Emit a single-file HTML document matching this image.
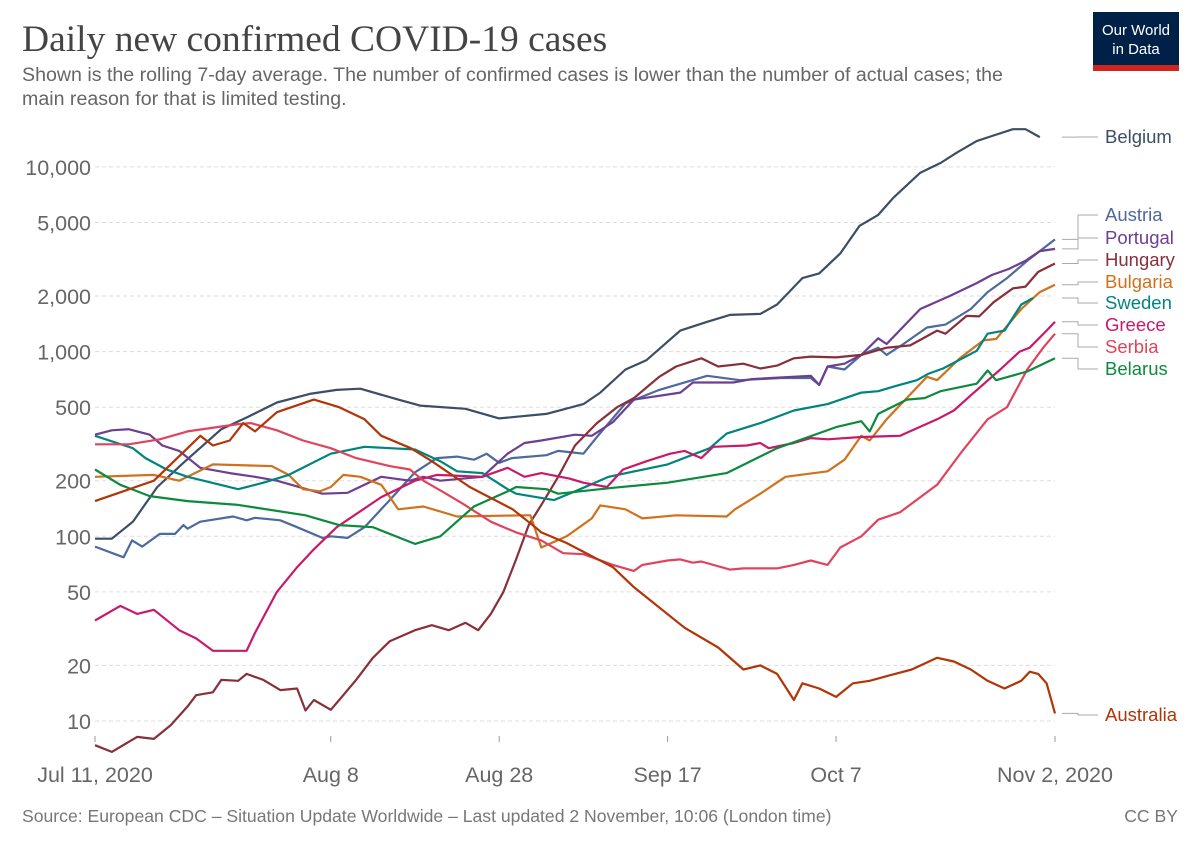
<!DOCTYPE html>
<html><head><meta charset="utf-8"><style>
body{margin:0;background:#fff;width:1200px;height:847px;overflow:hidden;font-family:"Liberation Sans",sans-serif}
</style></head><body>
<svg width="1200" height="847" id="c" xmlns="http://www.w3.org/2000/svg">
<text x="22" y="51" font-family="Liberation Serif" font-size="37.5" fill="#444">Daily new confirmed COVID-19 cases</text>
<text x="22" y="81" font-size="19.6" fill="#666">Shown is the rolling 7-day average. The number of confirmed cases is lower than the number of actual cases; the</text>
<text x="22" y="105" font-size="19.6" fill="#666">main reason for that is limited testing.</text>
<g><rect x="1093" y="12" width="86" height="59" fill="#002147"/><rect x="1093" y="65" width="86" height="6" fill="#ce261e"/>
<text x="1136" y="35" font-size="15" fill="#fff" text-anchor="middle">Our World</text><text x="1136" y="54" font-size="15" fill="#fff" text-anchor="middle">in Data</text></g>
<text x="22" y="822" font-size="17.6" fill="#777">Source: European CDC – Situation Update Worldwide – Last updated 2 November, 10:06 (London time)</text>
<text x="1178" y="822" font-size="17.6" fill="#777" text-anchor="end">CC BY</text>
<g id="grid"></g><g id="series"></g><g id="labels"></g>
</svg>
<script>
const yTicks=[10,20,50,100,200,500,1000,2000,5000,10000];
const yTickLabels=["10","20","50","100","200","500","1,000","2,000","5,000","10,000"];
const xTickDays=[0,28,48,68,88,114];
const xTickLabels=["Jul 11, 2020","Aug 8","Aug 28","Sep 17","Oct 7","Nov 2, 2020"];
const seriesNames=["Belgium","Austria","Portugal","Hungary","Bulgaria","Sweden","Greece","Serbia","Belarus","Australia"];
const seriesColors=["#3c4e66","#4c6a9c","#6d3e91","#883039","#d0721c","#00847e","#c81a6a","#e0445c","#0d8a3e","#b13507"];
const labelY=[137,215,238,260,282,303,325,347,369,715];
const daysBelgium=[0,2,4.5,7.4,10.5,15,18,21.6,25.5,28.7,31.5,36,38.6,44,48,53.6,58,60,63,65.5,69.5,72.7,75.4,79,81,84,86,88.5,90.8,93,94.8,98,100.4,102.4,104.7,106.7,109,110.5,112.2];
const valsBelgium=[97,97,120,185,250,380,440,530,590,620,630,550,510,490,435,460,520,600,800,900,1300,1450,1580,1600,1800,2500,2650,3400,4800,5500,6800,9300,10500,12000,13800,14800,16000,16000,14500];
const daysAustria=[0,3.4,4.4,5.6,7.7,9.5,10.5,11,12.5,16.4,18,19,22,24,27,28,30,32,35,38,40.6,43,45,46.5,48,49.5,53.6,55,58,59.6,63,67,72.7,76.6,81.4,85,86,87,89,91,93,94,96,98.8,101,104,106,108.3,110.7,114];
const valsAustria=[88,77,95,88,103,103,115,110,120,128,122,126,122,112,98,100,98,112,157,222,265,270,260,280,250,265,275,290,280,345,525,620,740,700,720,720,660,830,800,960,1050,960,1100,1350,1400,1700,2100,2500,3100,4050];
const daysPortugal=[0,2,4,6.5,8,10,12.5,16,19,21.6,27,30,34,37.4,39,41,46,49,51,53,57,59,61.5,64,69.5,71,75.8,78,85,86,87,89,91,93,94,98,101.5,104.7,106.5,108.5,110.5,112.2,114];
const valsPortugal=[355,375,380,355,310,290,235,220,210,200,170,172,210,200,210,200,210,280,320,330,355,350,415,550,600,680,680,710,740,660,830,860,960,1180,1100,1700,2000,2350,2600,2800,3100,3500,3600];
const daysHungary=[0,2,5,7,9,11,12,14,15,17,18,20,22,24,25,26,28,29,31,33,35,38,40,42,44,45.5,47,48.5,50,51.5,53,55,57,59.6,62,64,67,69,72,74,77,79,81,83,85,88,91,94,96.8,100,101,103.5,105,106.7,109,110.5,112,114];
const valsHungary=[7.4,6.8,8.2,8,9.5,12,13.8,14.3,16.7,16.5,18,16.7,14.7,15,11.4,13,11.5,13,16.7,22,27,31,33,31,34,31,38,50,75,115,148,210,310,410,500,560,730,830,920,830,860,810,840,920,940,930,960,1050,1080,1300,1250,1560,1550,1850,2200,2250,2700,3000];
const daysBulgaria=[0,7,10,14,21,23,24.7,26.7,28,29.5,31.5,34,36,39,43,51,51.7,53,56,59,60,63,65,69,75,76,79,82,87,89,91,92,94,98.8,100,102.7,105.5,107,110,112.2,114];
const valsBulgaria=[210,215,200,245,240,215,180,175,185,215,210,190,140,145,128,130,130,87,100,125,147,140,125,130,128,140,170,210,225,260,350,330,430,730,700,920,1150,1170,1700,2100,2300];
const daysSweden=[0,4.5,6,8.5,11,17,20,23,28,32,38,41,43,46,49,50,54.5,57.6,61,68,73,75,79,83,87,91,93,95,97.6,99,100.7,104.7,106,108,110,111.4];
const valsSweden=[350,300,265,230,210,180,195,215,280,305,295,255,225,220,180,170,157,180,210,245,300,360,410,480,520,600,610,650,700,760,810,1010,1250,1300,1800,1950];
const daysGreece=[0,3,5,7,10,12,14,16,18,19,21.6,24,26,28.7,34,38,40.6,46,49,51,53,56.4,58,60.8,62.7,65.5,68.3,70,72,73.4,77.4,79,80,83,85,87,91,95.6,100,102,104,107.5,109.8,111,113,114];
const valsGreece=[35,42,38,40,31,28,24,24,24,30,50,68,85,112,163,200,215,210,235,210,220,205,195,185,230,255,280,290,265,305,310,320,300,320,340,335,345,350,430,480,580,800,1000,1050,1300,1450];
const daysSerbia=[0,4,7.7,11,14.5,17,18.5,21.6,24.7,28,31,35,37.4,39,41.4,43.7,47,50,53,55.6,58,61.5,64,65,68,69.5,71,72,75.4,77,81,83,85,87,88.5,91,93,95.6,100,103,106,108.3,110.7,112.6,114];
const valsSerbia=[315,315,335,370,390,405,410,375,330,300,265,240,230,200,173,150,120,105,95,81,80,70,65,70,74,75,72,73,66,67,67,70,74,70,87,100,123,135,190,290,430,500,800,1050,1250];
const daysBelarus=[0,3,6.5,11,17,25,29,33,38,41,45,49,50,53.6,55,61.5,68,75,81,88,91,92,93,96.4,98.5,100.4,104.7,106,107,110.7,114];
const valsBelarus=[230,190,165,155,148,130,115,112,91,100,145,175,185,180,170,183,195,220,300,390,420,370,460,550,560,610,670,790,700,780,920];
const daysAustralia=[0,7,12.5,14,16,17.6,19,21.6,26,29,32,34,37.5,40,44.5,49.6,52.5,53,56,61.5,64,70,74,77,79,81,83,84,86,88,90,92,95,97,100,102,104,106,108,110,111,112,113,114];
const valsAustralia=[155,200,350,310,330,410,370,470,550,500,430,350,300,255,185,140,110,105,92,68,53,32,25,19,20,18,13,16,15,13.5,16,16.5,18,19,22,21,19,16.5,15,16.5,18.5,18,16,11];
const allDays=[daysBelgium,daysAustria,daysPortugal,daysHungary,daysBulgaria,daysSweden,daysGreece,daysSerbia,daysBelarus,daysAustralia];
const allVals=[valsBelgium,valsAustria,valsPortugal,valsHungary,valsBulgaria,valsSweden,valsGreece,valsSerbia,valsBelarus,valsAustralia];
const NS="http://www.w3.org/2000/svg";
const x=d=>95+d*(960/114);
const y=v=>721-(Math.log10(v)-1)*184.7;
function mk(t,a,p){const e=document.createElementNS(NS,t);for(const k in a)e.setAttribute(k,a[k]);p.appendChild(e);return e;}
const grid=document.getElementById('grid');
yTicks.forEach((v,i)=>{
 const l=mk('line',{x1:95,x2:1055,y1:y(v),y2:y(v),stroke:'#ddd','stroke-dasharray':'4,3'},grid);
 
 
 const t=mk('text',{x:91,y:y(v)+8,'text-anchor':'end','font-size':21.5,fill:'#666'},grid);t.textContent=yTickLabels[i];
 
 
});
xTickDays.forEach((d,i)=>{
 const l=mk('line',{x1:x(d),x2:x(d),y1:736,y2:742,stroke:'#999'},grid);
 
 
 const t=mk('text',{x:x(d),y:782,'text-anchor':'middle','font-size':21.5,fill:'#666'},grid);t.textContent=xTickLabels[i];
 
 
});
const sg=document.getElementById('series'),lg=document.getElementById('labels');
seriesNames.forEach((n,i)=>{
 const ds=allDays[i],vs=allVals[i];
 const pairs=ds.map((d,j)=>[d,vs[j]]).sort((a,b)=>a[0]-b[0]);
 const pts=pairs.map(p=>x(p[0]).toFixed(1)+','+y(p[1]).toFixed(1)).join(' ');
 const p=mk('polyline',{points:pts,fill:'none',stroke:seriesColors[i],'stroke-width':2.2,'stroke-linejoin':'round'},sg);
 
 
 const ey=y(pairs[pairs.length-1][1]);
 const c=mk('polyline',{points:`1062,${ey} 1078,${ey} 1078,${labelY[i]} 1098,${labelY[i]}`,fill:'none',stroke:'#aaa','stroke-width':1},lg);
 
 
 const t=mk('text',{x:1105,y:labelY[i]+6,'font-size':18.5,fill:seriesColors[i]},lg);t.textContent=n;
 
 
});
</script>
</body></html>
